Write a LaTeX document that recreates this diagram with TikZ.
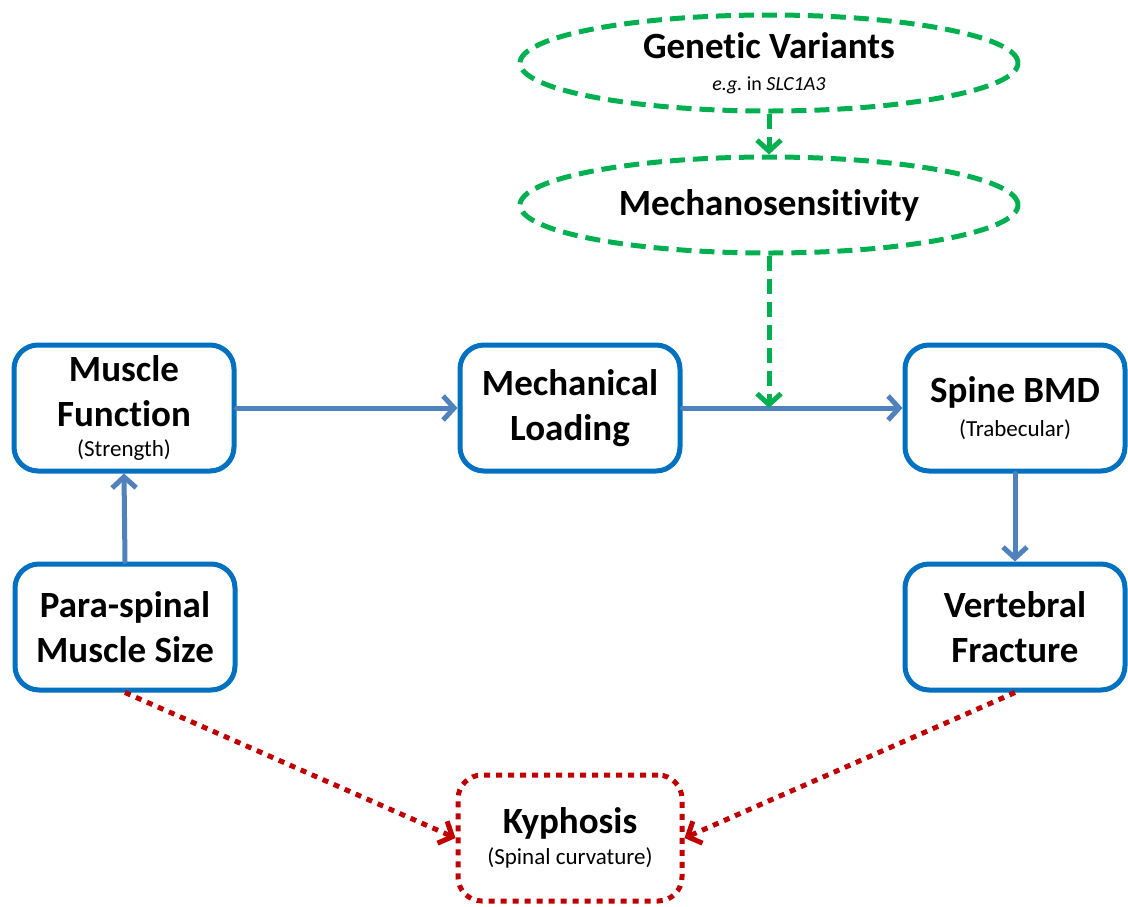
\documentclass[tikz,border=0pt]{standalone}
\usepackage{fontspec}
\setmainfont[Ligatures=NoCommon]{Carlito}
\usetikzlibrary{arrows.meta,shapes.geometric}
\definecolor{boxblue}{HTML}{0070C0}
\definecolor{arrblue}{HTML}{4F81BD}
\definecolor{grn}{HTML}{00B050}
\definecolor{rd}{HTML}{C00000}
\tikzset{
  big/.style={font=\fontsize{37}{45}\selectfont\bfseries},
  bluebox/.style={draw=boxblue, line width=5pt, rounded corners=24pt, fill=white,
    minimum width=220pt, minimum height=126pt, inner sep=0pt, align=center, big},
  greenell/.style={ellipse, draw=grn, line width=5pt, dash pattern=on 15pt off 8pt,
    minimum width=498pt, minimum height=96pt, inner sep=0pt, align=center, big},
  redbox/.style={draw=rd, line width=5pt, dash pattern=on 6pt off 6pt, rounded corners=24pt,
    minimum width=224pt, minimum height=126pt, inner sep=0pt, align=center, big},
  tip/.style={-{Straight Barb[length=11pt,width=24pt]}},
  bluearr/.style={draw=arrblue, line width=5pt, line cap=round, tip},
  greenarr/.style={draw=grn, line width=5pt, dash pattern=on 15pt off 8pt, tip},
  redarr/.style={draw=rd, line width=5pt, dash pattern=on 6pt off 6pt, tip},
}
\newcommand{\smalltxt}[1]{{\fontsize{23}{26}\selectfont\mdseries #1}}
\begin{document}
\begin{tikzpicture}[x=1pt,y=-1pt]
\useasboundingbox (0,0) rectangle (1128,906);
\node[bluebox] (mf) at (124,408) {Muscle\\Function\\[-15pt]\smalltxt{(Strength)}};
\node[bluebox] (ps) at (125,627) {Para-spinal\\Muscle Size};
\node[bluebox] (ml) at (570,408) {Mechanical\\Loading};
\node[bluebox] (sb) at (1015,408) {Spine BMD\\[-11pt]\smalltxt{(Trabecular)}};
\node[bluebox] (vf) at (1015,627) {Vertebral\\Fracture};
\node[redbox] (ky) at (570,838) {Kyphosis\\[-14pt]\smalltxt{(Spinal curvature)}};
\node[greenell] (gv) at (769,63) {Genetic Variants\\[-13pt]{\fontsize{20}{24}\selectfont\mdseries\itshape e.g.\ \upshape in \itshape SLC1A3}};
\node[greenell] (ms) at (769,205) {Mechanosensitivity};
\coordinate (j) at (769,408);
\draw[bluearr] (ps.north) -- (mf.south);
\draw[bluearr] (mf.east) -- (ml.west);
\draw[bluearr] (ml.east) -- (sb.west);
\draw[bluearr] (sb.south) -- (vf.south |- vf.north);
\draw[greenarr] (gv.south) -- (ms.north);
\draw[greenarr] (ms.south) -- (j);
\draw[redarr] (ps.south) -- (ky.west);
\draw[redarr] (vf.south) -- (ky.east);
\end{tikzpicture}
\end{document}
